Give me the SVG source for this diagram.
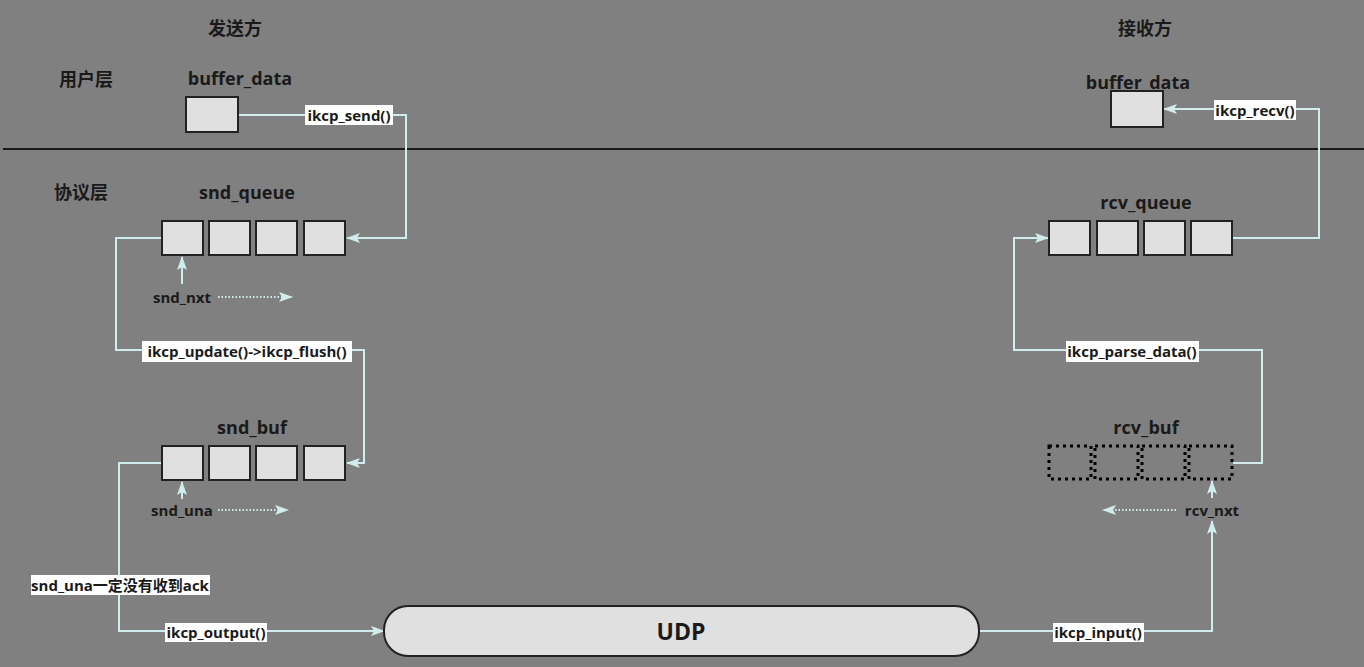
<svg xmlns="http://www.w3.org/2000/svg" width="1364" height="667" viewBox="0 0 1364 667">
<style>
text{font-family:"Open Sans","Noto Sans CJK SC",sans-serif;font-weight:bold;fill:#1a1a1a;text-anchor:middle;dominant-baseline:central}
.t{font-size:18px}
.s{font-size:15px}
.box{fill:#e0e0e0;stroke:#222;stroke-width:2}
.dbox{fill:none;stroke:#000;stroke-width:3;stroke-dasharray:3,4}
.c{fill:none;stroke:#d0ecec;stroke-width:2}
.d{fill:none;stroke:#d0ecec;stroke-width:2;stroke-dasharray:1.5,2}
.lb{fill:#fff}
</style>
<defs>
<marker id="a" markerUnits="userSpaceOnUse" markerWidth="16" markerHeight="12" refX="13" refY="6" orient="auto">
<path d="M0,1 L14,6 L0,11 L3,6 Z" fill="#d0ecec"/>
</marker>
</defs>
<rect width="1364" height="667" fill="#808080"/>
<line x1="3" y1="149" x2="1364" y2="149" stroke="#1a1a1a" stroke-width="2"/>
<text class="t" x="235" y="28">发送方</text>
<text class="t" x="1145" y="28">接收方</text>
<text class="t" x="86" y="79">用户层</text>
<text class="t" x="81" y="192">协议层</text>

<g id="connectors">
<path class="c" d="M238,115 H406 V238 H347" marker-end="url(#a)"/>
<path class="c" d="M162,238 H116 V350 H364 V463 H347" marker-end="url(#a)"/>
<path class="c" d="M162,463 H119 V631 H384" marker-end="url(#a)"/>
<path class="c" d="M979,631 H1212 V521" marker-end="url(#a)"/>
<path class="c" d="M1233,463 H1262 V350 H1014 V238 H1048" marker-end="url(#a)"/>
<path class="c" d="M1232,238 H1319 V109 H1164" marker-end="url(#a)"/>
<path class="c" d="M182,284 V257" marker-end="url(#a)"/>
<path class="c" d="M182,499 V482" marker-end="url(#a)"/>
<path class="c" d="M1212,498 V481" marker-end="url(#a)"/>
<path class="d" d="M218,297 H292" marker-end="url(#a)"/>
<path class="d" d="M218,510 H288" marker-end="url(#a)"/>
<path class="d" d="M1176,510 H1103" marker-end="url(#a)"/>
<rect class="lb" x="305" y="105" width="88" height="20"/>
<text class="s" x="349" y="115">ikcp_send()</text>
<rect class="lb" x="142" y="341" width="210" height="21"/>
<text class="s" x="247" y="351">ikcp_update()-&gt;ikcp_flush()</text>
<rect class="lb" x="31" y="575" width="179" height="20"/>
<text class="s" x="120" y="585">snd_una一定没有收到ack</text>
<rect class="lb" x="165" y="623" width="102" height="19"/>
<text class="s" x="216" y="632">ikcp_output()</text>
<rect class="lb" x="1053" y="623" width="91" height="19"/>
<text class="s" x="1098" y="632">ikcp_input()</text>
<rect class="lb" x="1066" y="341" width="133" height="21"/>
<text class="s" x="1132" y="351">ikcp_parse_data()</text>
<rect class="lb" x="1214" y="100" width="82" height="20"/>
<text class="s" x="1255" y="110">ikcp_recv()</text>
</g>

<g id="snd_buffer_data">
<text class="t" x="240" y="78">buffer_data</text>
<rect class="box" x="186" y="97" width="52" height="35"/>
</g>
<g id="rcv_buffer_data">
<text class="t" x="1138" y="82">buffer_data</text>
<rect class="box" x="1111" y="91" width="52" height="36"/>
</g>
<g id="snd_queue">
<text class="t" x="247" y="192">snd_queue</text>
<rect class="box" x="162" y="221" width="41" height="34"/>
<rect class="box" x="209" y="221" width="41" height="34"/>
<rect class="box" x="256" y="221" width="41" height="34"/>
<rect class="box" x="304" y="221" width="41" height="34"/>
</g>
<g id="snd_nxt"><text class="s" x="182" y="297">snd_nxt</text></g>
<g id="snd_buf">
<text class="t" x="252" y="427">snd_buf</text>
<rect class="box" x="162" y="446" width="41" height="34"/>
<rect class="box" x="209" y="446" width="41" height="34"/>
<rect class="box" x="256" y="446" width="41" height="34"/>
<rect class="box" x="304" y="446" width="41" height="34"/>
</g>
<g id="snd_una"><text class="s" x="182" y="510">snd_una</text></g>
<g id="rcv_queue">
<text class="t" x="1146" y="202">rcv_queue</text>
<rect class="box" x="1049" y="221" width="41" height="34"/>
<rect class="box" x="1097" y="221" width="41" height="34"/>
<rect class="box" x="1144" y="221" width="41" height="34"/>
<rect class="box" x="1191" y="221" width="41" height="34"/>
</g>
<g id="rcv_buf">
<text class="t" x="1146" y="427">rcv_buf</text>
<rect class="dbox" x="1049" y="446" width="42" height="33"/>
<rect class="dbox" x="1095" y="446" width="43" height="33"/>
<rect class="dbox" x="1142" y="446" width="43" height="33"/>
<rect class="dbox" x="1189" y="446" width="43" height="33"/>
</g>
<g id="rcv_nxt"><text class="s" x="1212" y="510">rcv_nxt</text></g>
<g id="udp">
<rect class="box" x="384" y="606" width="595" height="50" rx="24" ry="24"/>
<text x="681" y="631" style="font-size:23px">UDP</text>
</g>
</svg>
